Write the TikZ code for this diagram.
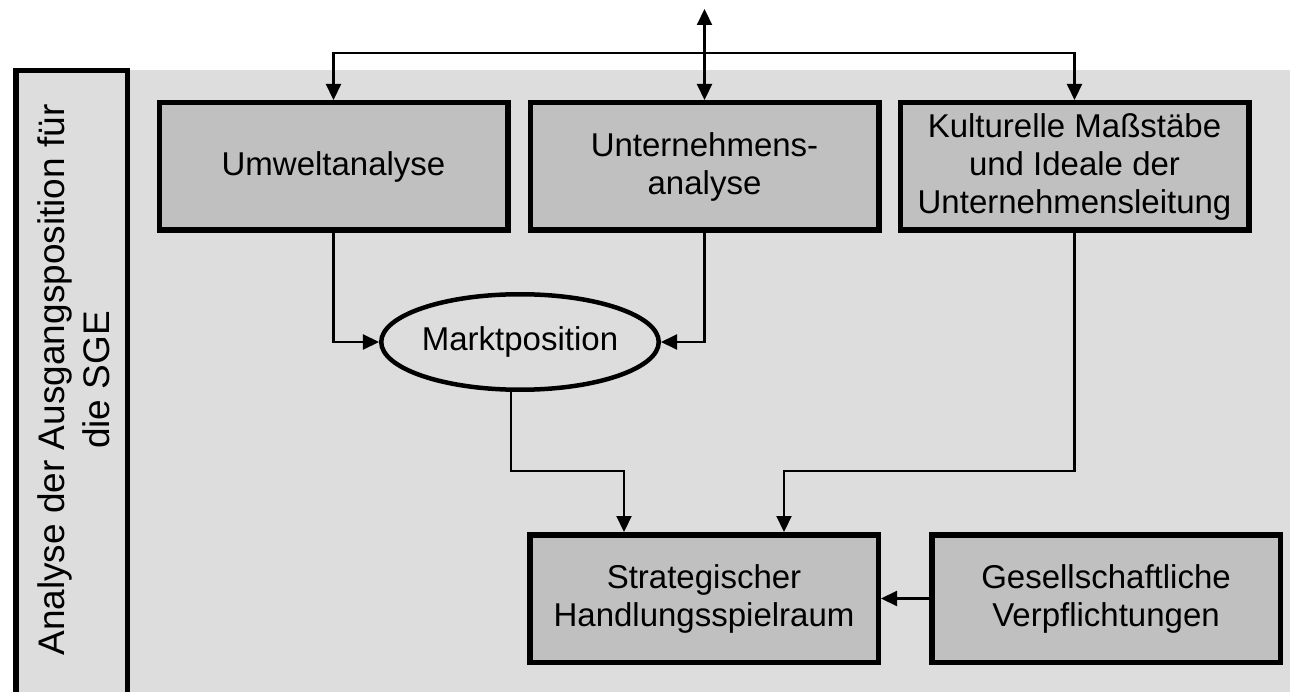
\documentclass[tikz,border=0pt]{standalone}
\usepackage{fontspec}
\setmainfont{Liberation Sans}
\usetikzlibrary{arrows.meta,calc}
\definecolor{bggray}{RGB}{221,221,221}
\definecolor{boxgray}{RGB}{192,192,192}
\tikzset{
  stepbox/.style={draw=black, line width=5.5pt, fill=boxgray, minimum width=348.5pt, minimum height=127.5pt, inner sep=0pt, align=center, font=\fontsize{33}{38}\selectfont},
  ovalbox/.style={ellipse, draw=black, line width=4.5pt, fill=bggray, minimum width=271.5pt, minimum height=95.5pt, inner sep=0pt, font=\fontsize{33}{38}\selectfont},
  conn/.style={line width=2.2pt, -{Triangle[length=16pt,width=15pt]}},
  conn2/.style={line width=2.2pt, {Triangle[length=16pt,width=15pt]}-{Triangle[length=16pt,width=15pt]}},
  plain/.style={line width=2.2pt},
}
\usetikzlibrary{shapes.geometric}
\begin{document}
\begin{tikzpicture}[x=1pt,y=-1pt]
\useasboundingbox (0,0) rectangle (1290,692);
\clip (0,0) rectangle (1290,692);
% background
\fill[bggray] (130,70) rectangle (1290,700);
\draw[line width=5.5pt, fill=bggray] (15.75,70.75) rectangle (127.25,720);
\node[rotate=90, align=center, font=\fontsize{37}{45}\selectfont] (side) at (74,380) {Analyse der Ausgangsposition für\\die SGE};
% boxes
\node[stepbox] (u) at (333.5,166.5) {Umweltanalyse};
\node[stepbox] (un) at (704.5,166.5) {Unternehmens-\\analyse};
\node[stepbox] (k) at (1074.5,166.5) {Kulturelle Maßstäbe\\und Ideale der\\Unternehmensleitung};
\node[ovalbox] (m) at (520,342) {Marktposition};
\node[stepbox] (s) at (704,598.5) {Strategischer\\Handlungsspielraum};
\node[stepbox] (g) at (1106,598.5) {Gesellschaftliche\\Verpflichtungen};
% top connectors
\coordinate (top) at (704.5,9);
\coordinate (h) at (0,53);
\draw[conn2] (top) -- (un.north);
\draw[conn] (un.north |- h) -| (u.north);
\draw[conn] (un.north |- h) -| (k.north);
% into ellipse
\draw[conn] (u.south) |- (m.west);
\draw[conn] (un.south) |- (m.east);
% to strategic
\coordinate (j1) at (624,471);
\coordinate (j2) at (784,471);
\draw[conn] ([xshift=-9pt]m.south) |- (j1) -- (j1 |- s.north);
\draw[conn] (k.south) |- (j2) -- (j2 |- s.north);
\draw[conn] (g.west) -- (s.east);
\end{tikzpicture}
\end{document}
